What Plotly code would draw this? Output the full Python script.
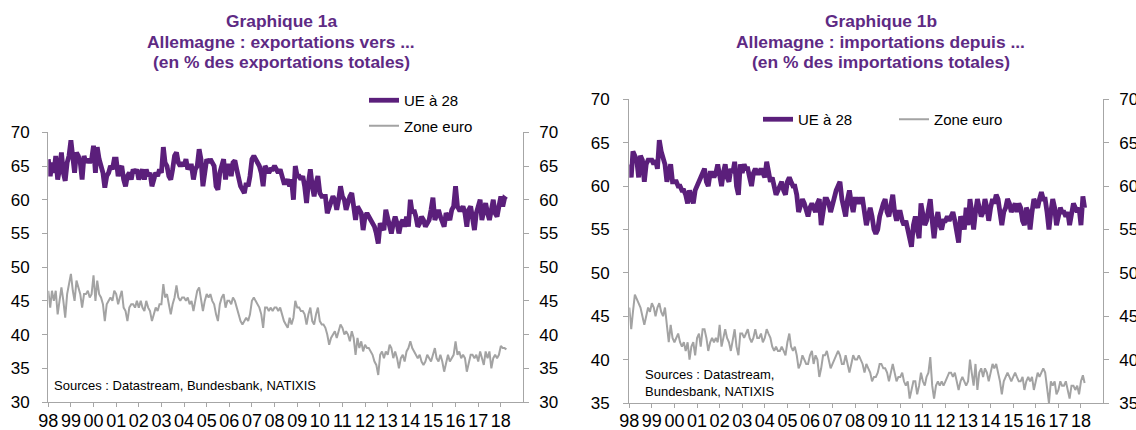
import plotly.graph_objects as go

# ---------------- data (monthly, %) ----------------
exp_ue28 = [
    66.0, 63.5, 65.5, 64.0, 66.5, 63.0, 64.5, 67.0, 64.0, 62.8, 65.5, 66.5,  # 1998
    68.8, 66.0, 64.0, 67.0, 66.5, 65.5, 63.0, 66.5, 65.5, 66.0, 65.5, 66.0,  # 1999
    68.0, 64.0, 67.8, 66.0, 65.0, 64.0, 61.8, 63.5, 64.0, 65.0, 64.5, 66.0,  # 2000
    66.0, 63.5, 64.5, 65.0, 63.0, 62.0, 63.5, 64.0, 63.0, 64.5, 64.0, 64.5,  # 2001
    63.0, 64.0, 64.5, 63.0, 64.5, 63.5, 64.0, 62.0, 63.0, 64.0, 63.5, 64.5,  # 2002
    64.0, 67.8, 65.5, 65.0, 63.5, 63.0, 64.5, 66.5, 67.0, 65.5, 65.0, 65.5,  # 2003
    65.0, 66.0, 64.5, 65.0, 65.0, 63.0, 64.5, 65.0, 67.5, 66.0, 62.0, 64.5,  # 2004
    66.0, 65.5, 66.0, 65.5, 65.0, 62.0, 61.5, 64.0, 65.0, 66.0, 63.0, 65.0,  # 2005
    65.0, 63.5, 65.5, 65.8, 64.5, 63.0, 62.0, 61.5, 61.0, 62.5, 62.0, 63.5,  # 2006
    66.0, 66.5, 66.0, 65.5, 65.0, 64.0, 62.0, 65.0, 64.5, 64.0, 64.5, 64.5,  # 2007
    65.0, 64.5, 64.0, 64.5, 63.5, 62.5, 62.5, 63.0, 62.0, 63.0, 60.0, 65.0,  # 2008
    63.5, 63.5, 63.0, 63.5, 62.0, 59.5, 62.5, 64.5, 62.0, 60.5, 62.5, 63.5,  # 2009
    61.0, 60.5, 60.5, 60.5, 58.0, 59.0, 59.5, 60.5, 60.0, 58.5, 60.0, 62.0,  # 2010
    60.5, 60.0, 58.5, 60.0, 60.5, 61.0, 59.5, 57.0, 59.0, 58.5, 58.0, 55.5,  # 2011
    57.5, 58.0, 57.5, 57.0, 56.5, 56.0, 55.0, 53.5, 56.5, 56.0, 55.5, 58.5,  # 2012
    57.0, 56.0, 55.0, 56.5, 57.5, 56.5, 55.0, 56.5, 57.0, 56.0, 57.5, 56.0,  # 2013
    60.0, 58.0, 58.5, 57.5, 56.0, 56.5, 57.5, 57.0, 56.0, 56.5, 57.0, 58.5,  # 2014
    60.3, 57.0, 58.0, 58.5, 57.5, 56.5, 56.0, 58.0, 57.5, 57.0, 58.5, 59.0,  # 2015
    62.0, 59.0, 58.5, 58.5, 59.0, 58.0, 56.0, 58.5, 59.0, 57.5, 55.5, 58.0,  # 2016
    59.0, 60.0, 57.0, 58.5, 59.5, 58.0, 57.0, 58.5, 60.0, 58.0, 57.5, 59.0,  # 2017
    60.5, 59.0, 60.2, 60.0,                                                  # 2018
]

exp_ze = [
    46.5, 44.0, 46.5, 45.0, 46.5, 43.0, 45.0, 47.0, 45.0, 42.5, 46.0, 47.5,  # 1998
    49.0, 46.5, 45.0, 48.0, 47.0, 46.0, 44.0, 46.0, 46.0, 46.5, 45.5, 46.0,  # 1999
    48.8, 45.0, 48.0, 46.0, 45.5, 44.5, 42.0, 44.5, 45.0, 45.5, 45.0, 46.5,  # 2000
    46.0, 44.5, 45.5, 46.5, 44.0, 43.5, 42.0, 44.0, 44.5, 44.5, 44.0, 45.0,  # 2001
    44.0, 45.0, 44.0, 43.5, 45.0, 44.0, 43.5, 42.0, 43.0, 44.0, 43.5, 44.5,  # 2002
    44.5, 47.5, 45.5, 46.0, 44.5, 43.0, 44.5, 45.5, 47.3, 45.5, 45.0, 45.5,  # 2003
    45.5, 45.0, 45.5, 44.5, 45.0, 43.5, 45.0, 46.5, 47.0, 45.5, 43.5, 45.0,  # 2004
    46.0, 45.5, 46.0, 45.0, 44.5, 43.0, 42.0, 44.5, 45.5, 46.0, 44.0, 45.0,  # 2005
    45.0, 44.5, 45.5, 45.0, 44.0, 43.0, 42.0, 41.5, 42.0, 42.5, 42.0, 43.0,  # 2006
    45.0, 45.5, 45.0, 44.5, 44.0, 43.0, 41.0, 44.0, 44.0, 43.5, 44.0, 43.5,  # 2007
    44.0, 44.0, 43.5, 44.0, 43.0, 42.0, 41.5, 41.0, 42.5, 41.5, 42.5, 45.0,  # 2008
    44.0, 44.0, 43.5, 43.5, 43.0, 41.5, 43.0, 44.0, 42.0, 41.5, 43.0, 44.0,  # 2009
    42.0, 41.5, 41.5, 41.0, 40.0, 38.5, 39.5, 40.0, 40.5, 39.5, 40.5, 41.5,  # 2010
    41.0, 40.0, 40.5, 40.0, 39.0, 40.5, 39.5, 37.0, 39.5, 38.0, 39.0, 37.5,  # 2011
    38.5, 38.0, 38.0, 37.5, 37.0, 36.0, 35.5, 34.0, 37.0, 37.5, 36.5, 37.5,  # 2012
    37.0, 38.5, 38.0, 36.5, 37.5, 36.5, 35.0, 36.5, 37.0, 36.0, 37.5, 38.0,  # 2013
    39.0, 38.0, 37.5, 37.0, 36.5, 37.0, 36.0, 35.5, 36.0, 37.0, 36.5, 36.0,  # 2014
    37.0, 38.0, 36.5, 36.0, 37.0, 36.0, 34.5, 36.0, 37.0, 36.0, 36.5, 37.0,  # 2015
    39.0, 37.0, 37.5, 36.5, 37.0, 36.5, 34.5, 36.0, 37.0, 37.0, 36.5, 37.0,  # 2016
    36.0, 37.5, 36.5, 35.5, 37.5, 36.5, 37.5, 35.0, 36.5, 37.0, 36.5, 37.0,  # 2017
    38.3, 38.0, 38.0, 37.8,                                                  # 2018
]

imp_ue28 = [
    62.5, 61.0, 64.0, 63.5, 63.0, 61.0, 63.5, 63.0, 60.5, 62.5, 63.0, 63.0,  # 1998
    63.0, 62.5, 63.0, 62.0, 65.3, 64.0, 63.0, 62.5, 60.5, 61.5, 62.5, 60.5,  # 1999
    60.5, 60.5, 60.0, 60.0, 59.5, 59.5, 59.0, 58.0, 59.5, 58.5, 58.0, 59.5,  # 2000
    60.0, 60.5, 61.0, 61.5, 62.0, 60.5, 60.0, 61.5, 61.5, 61.0, 61.5, 62.5,  # 2001
    61.0, 60.0, 61.5, 62.5, 61.0, 60.5, 62.0, 61.5, 62.8, 60.0, 59.0, 62.5,  # 2002
    61.5, 62.5, 62.0, 62.0, 61.0, 60.0, 61.5, 62.0, 61.5, 61.5, 62.0, 61.5,  # 2003
    61.0, 62.8, 61.5, 60.5, 61.0, 60.0, 59.0, 59.5, 60.0, 60.5, 59.5, 59.0,  # 2004
    60.5, 61.0, 60.5, 60.0, 60.0, 59.0, 57.0, 58.0, 58.5, 58.0, 57.0, 56.5,  # 2005
    57.5, 58.0, 57.5, 57.0, 58.0, 58.5, 55.5, 57.0, 58.5, 58.5, 58.0, 57.0,  # 2006
    58.0, 59.0, 59.5, 60.0, 60.5, 58.5, 57.5, 56.5, 58.5, 59.5, 58.0, 57.0,  # 2007
    58.5, 58.5, 58.0, 58.5, 58.5, 57.0, 55.5, 56.5, 57.5, 56.5, 55.0, 54.5,  # 2008
    55.0, 56.5, 57.5, 58.0, 58.5, 57.0, 56.5, 57.5, 59.0, 57.0, 56.0, 57.0,  # 2009
    57.0, 56.0, 55.5, 56.0, 55.0, 53.5, 53.0, 55.5, 56.5, 55.0, 54.0, 58.0,  # 2010
    56.5, 55.5, 56.0, 57.5, 58.5, 56.0, 54.0, 56.0, 57.0, 55.5, 55.0, 56.0,  # 2011
    56.0, 56.5, 56.0, 56.5, 57.0, 56.0, 55.0, 53.5, 56.5, 56.0, 55.0, 57.5,  # 2012
    55.5, 58.5, 57.0, 55.0, 57.0, 58.5, 57.5, 56.5, 57.0, 58.5, 57.5, 56.0,  # 2013
    57.5, 58.5, 58.0, 59.0, 58.5, 57.0, 55.5, 57.0, 57.5, 58.5, 58.0, 57.0,  # 2014
    57.5, 58.0, 57.0, 58.0, 57.5, 56.0, 55.5, 57.5, 57.0, 55.0, 57.0, 58.5,  # 2015
    58.0, 57.5, 58.5, 59.3, 58.5, 58.5, 57.0, 55.0, 57.0, 58.5, 57.5, 55.5,  # 2016
    56.5, 57.5, 57.0, 57.0, 56.5, 57.0, 55.5, 57.0, 58.0, 57.5, 57.0, 57.5,  # 2017
    55.5, 58.8, 57.5,                                                        # 2018
]

imp_ze = [
    46.0, 43.5, 45.5, 47.5, 47.0, 46.5, 46.0, 45.0, 44.0, 45.0, 46.0, 45.5,  # 1998
    46.5, 46.0, 45.0, 46.0, 46.5, 45.5, 45.0, 46.0, 44.0, 42.0, 44.0, 42.5,  # 1999
    42.0, 42.5, 43.0, 42.0, 41.5, 42.0, 41.0, 42.0, 40.0, 41.5, 42.0, 40.5,  # 2000
    42.5, 43.0, 41.5, 43.5, 43.5, 42.5, 41.0, 42.0, 42.5, 42.0, 42.5, 42.0,  # 2001
    44.0, 41.5, 42.5, 43.5, 42.5, 42.0, 41.0, 42.5, 43.5, 41.5, 40.5, 43.0,  # 2002
    43.0, 42.5, 43.0, 43.5, 42.5, 42.0, 42.5, 43.5, 42.5, 42.5, 43.0, 42.0,  # 2003
    42.5, 43.5, 43.0, 42.5, 41.5, 41.0, 41.5, 41.0, 41.0, 41.5, 41.0, 40.5,  # 2004
    42.0, 43.0, 41.5, 41.0, 41.5, 40.5, 39.0, 39.5, 40.5, 40.0, 39.5, 39.5,  # 2005
    40.5, 41.0, 39.5, 40.5, 40.0, 38.0, 39.0, 40.5, 40.5, 41.0, 40.0, 39.0,  # 2006
    39.5, 40.0, 40.5, 41.0, 40.5, 39.5, 39.5, 40.5, 39.5, 38.5, 39.5, 40.5,  # 2007
    40.0, 40.0, 40.5, 40.0, 39.5, 38.5, 39.5, 39.0, 38.5, 37.5, 38.0, 38.0,  # 2008
    38.5, 39.5, 39.5, 39.0, 39.0, 38.5, 37.5, 38.5, 39.5, 38.5, 37.5, 38.0,  # 2009
    38.0, 38.5, 37.5, 37.0, 37.5, 35.5, 36.5, 37.5, 37.5, 36.0, 37.0, 38.5,  # 2010
    37.5, 37.0, 38.0, 38.5, 40.3, 37.0, 35.5, 37.0, 37.5, 37.0, 37.5, 37.0,  # 2011
    37.5, 38.0, 38.5, 38.5, 38.0, 38.5, 37.5, 36.5, 37.5, 38.0, 37.5, 37.0,  # 2012
    37.5, 40.0, 38.5, 37.0, 39.5, 36.5, 38.5, 39.0, 38.0, 39.0, 38.5, 37.5,  # 2013
    38.5, 39.5, 39.0, 39.5, 38.5, 37.5, 36.0, 37.5, 38.0, 38.5, 38.0, 37.5,  # 2014
    38.0, 38.5, 38.0, 37.5, 37.5, 38.0, 36.5, 37.5, 38.0, 37.5, 38.0, 36.5,  # 2015
    37.5, 38.5, 38.0, 38.5, 39.0, 38.5, 37.0, 35.0, 37.5, 37.0, 37.5, 36.0,  # 2016
    36.5, 37.5, 37.0, 37.0, 37.5, 36.5, 35.5, 37.0, 37.0, 36.5, 37.0, 36.0,  # 2017
    37.5, 38.2, 37.3,                                                        # 2018
]

year_labels = ["98", "99", "00", "01", "02", "03", "04", "05", "06", "07", "08",
               "09", "10", "11", "12", "13", "14", "15", "16", "17", "18"]
tick_years = list(range(1998, 2019))

series_names = ["UE à 28", "Zone euro"]
titles_a = ["Graphique 1a", "Allemagne : exportations vers ...", "(en % des exportations totales)"]
titles_b = ["Graphique 1b", "Allemagne : importations depuis ...", "(en % des importations totales)"]
source_texts = ["Sources : Datastream, Bundesbank, NATIXIS",
                "Sources : Datastream,<br>Bundesbank, NATIXIS"]


def months(n):
    out = []
    for i in range(n):
        y = 1998 + i // 12
        m = i % 12 + 1
        out.append(f"{y}-{m:02d}-01")
    return out


# ---------------- styles ----------------
W, H = 1136, 430
PURPLE = "#5B1F7B"
TITLE_PURPLE = "#5E2A84"
GREY = "#A3A3A3"
AXIS = "#A6A6A6"
FONT = "Liberation Sans, Arial, sans-serif"


def px(x):
    return x / W


def py(y):
    return 1 - y / H


fig = go.Figure()

# left chart
fig.add_trace(go.Scatter(x=months(len(exp_ue28)), y=exp_ue28, name=series_names[0],
                         mode="lines", line=dict(color=PURPLE, width=4.8),
                         xaxis="x", yaxis="y", legend="legend", legendgroup="a1"))
fig.add_trace(go.Scatter(x=months(len(exp_ze)), y=exp_ze, name=series_names[1],
                         mode="lines", line=dict(color=GREY, width=2),
                         xaxis="x", yaxis="y2", legend="legend", legendgroup="a2"))
# right chart
fig.add_trace(go.Scatter(x=months(len(imp_ue28)), y=imp_ue28, name=series_names[0],
                         mode="lines", line=dict(color=PURPLE, width=4.8),
                         xaxis="x2", yaxis="y3", legend="legend2"))
fig.add_trace(go.Scatter(x=months(len(imp_ze)), y=imp_ze, name=series_names[1],
                         mode="lines", line=dict(color=GREY, width=2),
                         xaxis="x2", yaxis="y4", legend="legend2"))

tickvals = [f"{y}-01-01" for y in tick_years]

xcommon = dict(type="date", range=["1998-01-01", "2018-12-20"], tickmode="array",
               tickvals=tickvals, ticktext=year_labels, ticks="outside", ticklen=4,
               tickcolor=AXIS, showline=True, linecolor=AXIS, linewidth=1.3,
               showgrid=False, zeroline=False, automargin=False,
               tickfont=dict(family=FONT, size=18, color="#000000"))
ycommon = dict(dtick=5, ticks="outside", ticklen=5, tickcolor=AXIS, showline=True,
               linecolor=AXIS, linewidth=1.3, showgrid=False, zeroline=False,
               automargin=False, tickfont=dict(family=FONT, size=17, color="#000000"))

L = (48.3, 522.7)
R = (629.3, 1102.8)
fig.update_layout(
    width=W, height=H, autosize=False,
    margin=dict(l=0, r=0, t=0, b=0, pad=0),
    paper_bgcolor="white", plot_bgcolor="white",
    font=dict(family=FONT, color="#000000"),
    xaxis=dict(domain=[px(L[0]), px(L[1])], anchor="y", ticklabelstandoff=-2, **xcommon),
    yaxis=dict(domain=[py(402), py(132.3)], anchor="x", range=[30, 70], side="left",
               ticklabelstandoff=9, **ycommon),
    yaxis2=dict(overlaying="y", anchor="x", side="right", range=[30, 70],
                ticklabelstandoff=7, **ycommon),
    xaxis2=dict(domain=[px(R[0]), px(R[1])], anchor="y3", ticklabelstandoff=-3, **xcommon),
    yaxis3=dict(domain=[py(403), py(99.3)], anchor="x2", range=[35, 70], side="left",
                ticklabelstandoff=10, **ycommon),
    yaxis4=dict(overlaying="y3", anchor="x2", side="right", range=[35, 70],
                ticklabelstandoff=7, **ycommon),
    legend=dict(x=px(364), y=py(84), xanchor="left", yanchor="top", orientation="v",
                bgcolor="rgba(0,0,0,0)", borderwidth=0, tracegroupgap=3,
                font=dict(family=FONT, size=15, color="#000000")),
    legend2=dict(x=px(758), y=py(103), xanchor="left", yanchor="top", orientation="h",
                 entrywidth=91, entrywidthmode="pixels",
                 bgcolor="rgba(0,0,0,0)", borderwidth=0,
                 font=dict(family=FONT, size=15, color="#000000")),
)

for lines, cx in ((titles_a, 281), (titles_b, 880.5)):
    for txt, cy in zip(lines, (20.7, 41.7, 62.0)):
        fig.add_annotation(text=txt, x=px(cx), y=py(cy), xref="paper", yref="paper",
                           xanchor="center", yanchor="middle", showarrow=False,
                           font=dict(family=FONT, size=17.4, color=TITLE_PURPLE, weight="bold"))

fig.add_annotation(text=source_texts[0], x=px(52), y=py(385), xref="paper", yref="paper",
                   xanchor="left", yanchor="middle", showarrow=False, align="left",
                   font=dict(family=FONT, size=13, color="#000000"))
fig.add_annotation(text=source_texts[1], x=px(643), y=py(383), xref="paper", yref="paper",
                   xanchor="left", yanchor="middle", showarrow=False, align="left",
                   font=dict(family=FONT, size=13, color="#000000"))

fig.write_html("out.html", config={"displayModeBar": False},
               post_script="document.body.style.margin='0';document.body.style.overflow='hidden';")
